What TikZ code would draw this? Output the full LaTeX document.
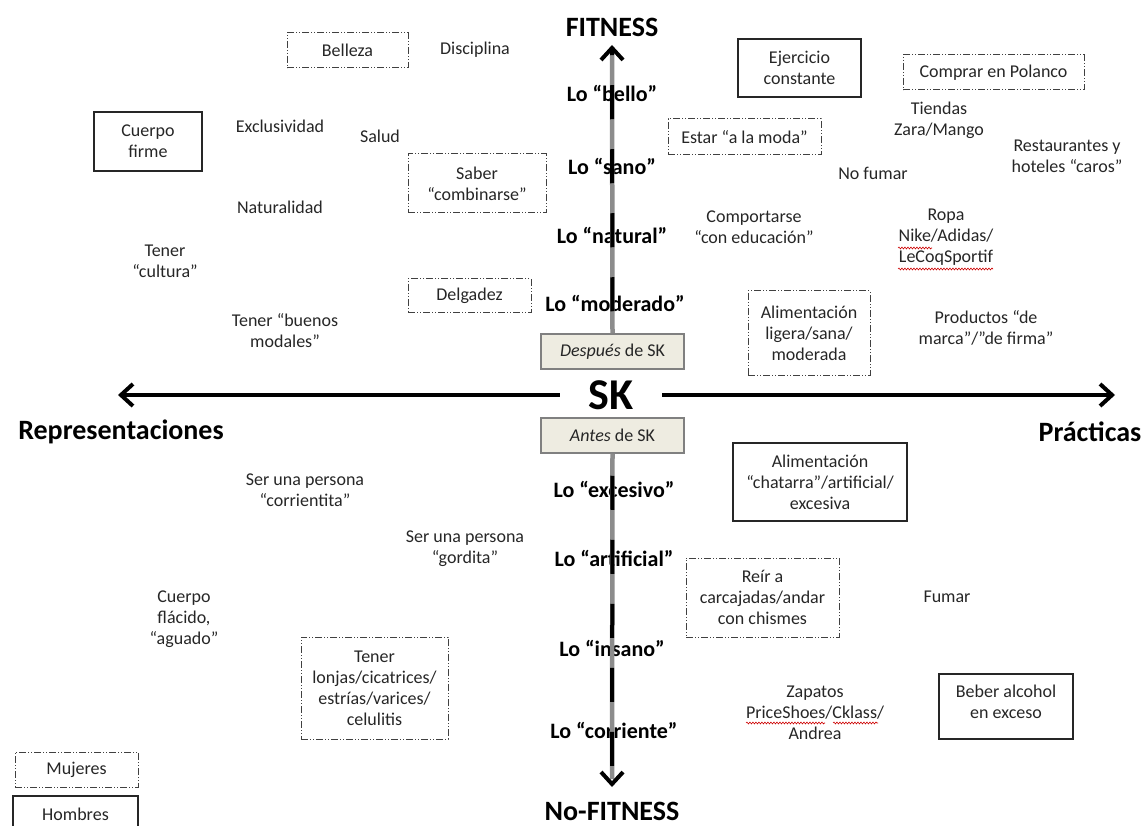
\documentclass[tikz,border=0pt]{standalone}
\usepackage{fontspec}
\setmainfont{Carlito}
\usetikzlibrary{arrows.meta,decorations.pathmorphing}
\definecolor{beige}{HTML}{EEECE1}

\tikzset{
  txt/.style={align=center, font=\fontsize{18}{21}\selectfont, text=black!85, inner sep=0pt},
  solidbox/.style={txt, draw=black!85, line width=1.2pt},
  dashbox/.style={txt, draw=black!75, line width=1pt,
    dash pattern=on 7pt off 2pt on 1pt off 2pt on 1pt off 2pt},
  axislbl/.style={font=\bfseries\fontsize{22}{26}\selectfont, inner sep=0pt},
  polelbl/.style={font=\bfseries\fontsize{28}{32}\selectfont, inner sep=0pt},
  skbox/.style={txt, draw=black!50, fill=beige, line width=1.5pt,
    minimum width=143, minimum height=35},
  haxis/.style={line width=4pt, -{Straight Barb[length=12pt,width=22pt]}},
  vgray/.style={line width=4.5pt, black!45, shorten >=8pt},
  vaxis/.style={line width=4pt, dash pattern=on 34pt off 30pt, dash phase=42pt,
    -{Straight Barb[length=12pt,width=22pt]}},
  spell/.style={red!80!black, line width=0.6pt, decorate,
    decoration={snake, amplitude=0.9pt, segment length=3pt}},
}

\begin{document}
\begin{tikzpicture}[x=1pt,y=-1pt]
  \useasboundingbox (0,0) rectangle (1146,826);

  % REPRESENTACIONES (upper left)
  \node[dashbox, minimum width=121, minimum height=35] (belleza) at (347.5,50.5) {Belleza};
  \node[txt] (disciplina) at (475,50) {Disciplina};
  \node[solidbox, minimum width=108, minimum height=59] (cuerpofirme) at (148,141.5) {Cuerpo\\firme};
  \node[txt] (exclusividad) at (280,126) {Exclusividad};
  \node[txt] (salud) at (380,136) {Salud};
  \node[dashbox, minimum width=138, minimum height=59] (saber) at (477,183.5) {Saber\\“combinarse”};
  \node[txt] (naturalidad) at (280,207) {Naturalidad};
  \node[txt] (cultura) at (165,261) {Tener\\“cultura”};
  \node[dashbox, minimum width=123, minimum height=34] (delgadez) at (469.5,296) {Delgadez};
  \node[txt] (modales) at (285,331) {Tener “buenos\\modales”};

  % REPRESENTACIONES (lower left)
  \node[txt] (corrientita) at (305,490) {Ser una persona\\“corrientita”};
  \node[txt] (gordita) at (465,549) {Ser una persona\\“gordita”};
  \node[txt] (flacido) at (184,619) {Cuerpo\\flácido,\\“aguado”};
  \node[dashbox, minimum width=147, minimum height=102] (lonjas) at (374.5,688)
    {Tener\\lonjas/cicatrices/\\estrías/varices/\\celulitis};

  % PRACTICAS (upper right)
  \node[solidbox, minimum width=123, minimum height=58] (ejercicio) at (799.5,68) {Ejercicio\\constante};
  \node[dashbox, minimum width=181, minimum height=35] (polanco) at (993.5,72.5) {Comprar en Polanco};
  \node[txt] (tiendas) at (939,120) {Tiendas\\Zara/Mango};
  \node[dashbox, minimum width=153, minimum height=36] (moda) at (744.5,137) {Estar “a la moda”};
  \node[txt] (restaurantes) at (1067,156) {Restaurantes y\\hoteles “caros”};
  \node[txt] (nofumar) at (873,173) {No fumar};
  \node[txt] (comportarse) at (754,227) {Comportarse\\“con educación”};
  \node[txt] (ropa) at (946,237) {Ropa\\Nike/Adidas/\\LeCoqSportif};
  \node[dashbox, minimum width=122, minimum height=84] (ligera) at (809,333)
    {Alimentación\\ligera/sana/\\moderada};
  \node[txt] (productos) at (986,328) {Productos “de\\marca”/”de firma”};

  % PRACTICAS (lower right)
  \node[solidbox, minimum width=174, minimum height=78] (chatarra) at (820,482)
    {Alimentación\\“chatarra”/artificial/\\excesiva};
  \node[dashbox, minimum width=153, minimum height=79] (reir) at (762.5,597.5)
    {Reír a\\carcajadas/andar\\con chismes};
  \node[txt] (fumar) at (947,597) {Fumar};
  \node[txt] (zapatos) at (815,713) {Zapatos\\PriceShoes/Cklass/\\Andrea};
  \node[solidbox, minimum width=134, minimum height=65] (alcohol) at (1006,706.5)
    {Beber alcohol\\en exceso\\[-12pt]\mbox{}};

  % spell-check marks
  \draw[spell] (898,248) -- (932,248);
  \draw[spell] (898,269) -- (993,269);
  \draw[spell] (746,723) -- (825,723);
  \draw[spell] (833,723) -- (878,723);

  % LEGEND
  \node[dashbox, minimum width=123, minimum height=35] (mujeres) at (76.5,769.5) {Mujeres};
  \node[solidbox, minimum width=125, minimum height=36] (hombres) at (75.5,814) {Hombres};

  % AXIS LABELS
  \node[polelbl] (fitness) at (612,27) {FITNESS};
  \node[polelbl] (nofitness) at (612,811) {No-FITNESS};
  \node[polelbl] (repr) at (121,432) {Representaciones};
  \node[polelbl] (pract) at (1090,432) {Prácticas};
  \node[axislbl] (bello) at (612,93) {Lo “bello”};
  \node[axislbl] (sano) at (612,166) {Lo “sano”};
  \node[axislbl] (natural) at (612,235) {Lo “natural”};
  \node[axislbl] (moderado) at (615,303) {Lo “moderado”};
  \node[axislbl] (excesivo) at (614,489) {Lo “excesivo”};
  \node[axislbl] (artificial) at (614,558) {Lo “artificial”};
  \node[axislbl] (insano) at (612,648) {Lo “insano”};
  \node[axislbl] (corriente) at (614,730) {Lo “corriente”};

  % SK
  \node[font=\bfseries\fontsize{44}{48}\selectfont, inner sep=0pt, minimum width=102] (sk) at (611,395) {SK};
  \node[skbox] (despues) at (612.5,351.5) {\textit{Después} de SK};
  \node[skbox] (antes) at (612.5,435.5) {\textit{Antes} de SK};

  % ARROWS
  \coordinate (ltip) at (118,395);
  \coordinate (rtip) at (1115,395);
  \coordinate (ttip) at (612,45);
  \coordinate (btip) at (612,787);
  \draw[haxis] (sk.west) -- (ltip);
  \draw[haxis] (sk.east) -- (rtip);
  \draw[vgray] (despues.north) -- (ttip);
  \draw[vaxis] (despues.north) -- (ttip);
  \draw[vgray] (antes.south) -- (btip);
  \draw[vaxis] (antes.south) -- (btip);
\end{tikzpicture}
\end{document}
